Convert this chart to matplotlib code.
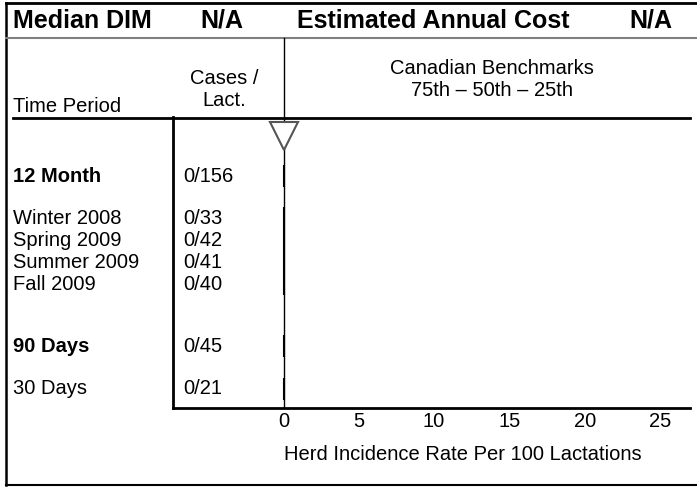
import numpy as np
from matplotlib import pyplot as plt

# Data
periods = ["12 Month", "Winter 2008", "Spring 2009", "Summer 2009", "Fall 2009", "90 Days", "30 Days"]
cases = np.array([0, 0, 0, 0, 0, 0, 0])
lacts = np.array([156, 33, 42, 41, 40, 45, 21])
bold_rows = [True, False, False, False, False, True, False]
rates = 100.0 * cases / lacts          # herd incidence per 100 lactations
benchmark = [0]                        # triangle marker
xticks = [0, 5, 10, 15, 20, 25]
median_dim = "N/A"
annual_cost = "N/A"

plt.rcParams['font.family'] = ['Liberation Sans', 'DejaVu Sans']
W, H = 697, 487
fs = 14.5       # regular text
fsh = 18        # header text

fig = plt.figure(figsize=(W / 100, H / 100), dpi=100)

# canvas in pixel coords for the table part
cv = fig.add_axes([0, 0, 1, 1])
cv.set_xlim(0, W)
cv.set_ylim(H, 0)
cv.axis('off')

# frame
cv.plot([5.5, 5.5], [3, 485], 'k-', lw=1.8)
cv.plot([5.5, W], [3, 3], 'k-', lw=2)
cv.plot([5.5, W], [485, 485], 'k-', lw=1.5)
cv.plot([5.5, W], [37.5, 37.5], '-', color='#808080', lw=1.5)

# header
cv.text(13, 21, "Median DIM", fontsize=fsh, fontweight='bold', va='center', ha='left')
cv.text(222, 21, median_dim, fontsize=fsh, fontweight='bold', va='center', ha='center')
cv.text(433, 21, "Estimated Annual Cost", fontsize=fsh, fontweight='bold', va='center', ha='center')
cv.text(651, 21, annual_cost, fontsize=fsh, fontweight='bold', va='center', ha='center')

# column heads
cv.text(13, 106, "Time Period", fontsize=fs, va='center', ha='left')
cv.text(224, 79, "Cases /", fontsize=fs, va='center', ha='center')
cv.text(224, 100, "Lact.", fontsize=fs, va='center', ha='center')
cv.text(492, 68, "Canadian Benchmarks", fontsize=fs, va='center', ha='center')
cv.text(492, 91, "75th \u2013 50th \u2013 25th", fontsize=fs, va='center', ha='center')

cv.plot([13, 690], [117.5, 117.5], 'k-', lw=2)
cv.plot([283.5, 283.5], [37.5, 117.5], 'k-', lw=1)

# row labels and counts
row_y = [176, 218, 240, 262, 284, 346, 389]
for name, c, n, b, y in zip(periods, cases, lacts, bold_rows, row_y):
    cv.text(13, y, name, fontsize=fs, fontweight='bold' if b else 'normal',
            va='center', ha='left')
    cv.text(183, y, f"{c}/{n}", fontsize=fs, va='center', ha='left')

# chart axes
x0, x1, yt, yb = 173, 690, 117.5, 408
ax = fig.add_axes([x0 / W, (H - yb) / H, (x1 - x0) / W, (yb - yt) / H])
ax.patch.set_alpha(0)
scale = (660 - 283.5) / 25
ax.set_xlim(-(283.5 - x0) / scale, (x1 - 283.5) / scale)
ax.set_ylim(yb, yt)

ax.axvline(0, color='k', lw=1)
ax.barh(row_y, rates, height=22, color='white', edgecolor='k', lw=1.5)
ax.plot(benchmark, [136.5], 'v', ms=20, mfc='white', mec='#555555', mew=1.5)

for s in ['top', 'right']:
    ax.spines[s].set_visible(False)
ax.spines['left'].set_linewidth(2)
ax.spines['bottom'].set_linewidth(2)
ax.set_yticks([])
ax.set_xticks(xticks)
ax.set_xticklabels([str(t) for t in xticks], fontsize=fs)
ax.tick_params(axis='x', length=0, pad=3)
ax.set_xlabel("Herd Incidence Rate Per 100 Lactations", fontsize=fs)
ax.xaxis.set_label_coords((463 - x0) / (x1 - x0), -(455 - yb) / (yb - yt))
ax.xaxis.label.set_va('center')

fig.savefig('out.png', dpi=100)
